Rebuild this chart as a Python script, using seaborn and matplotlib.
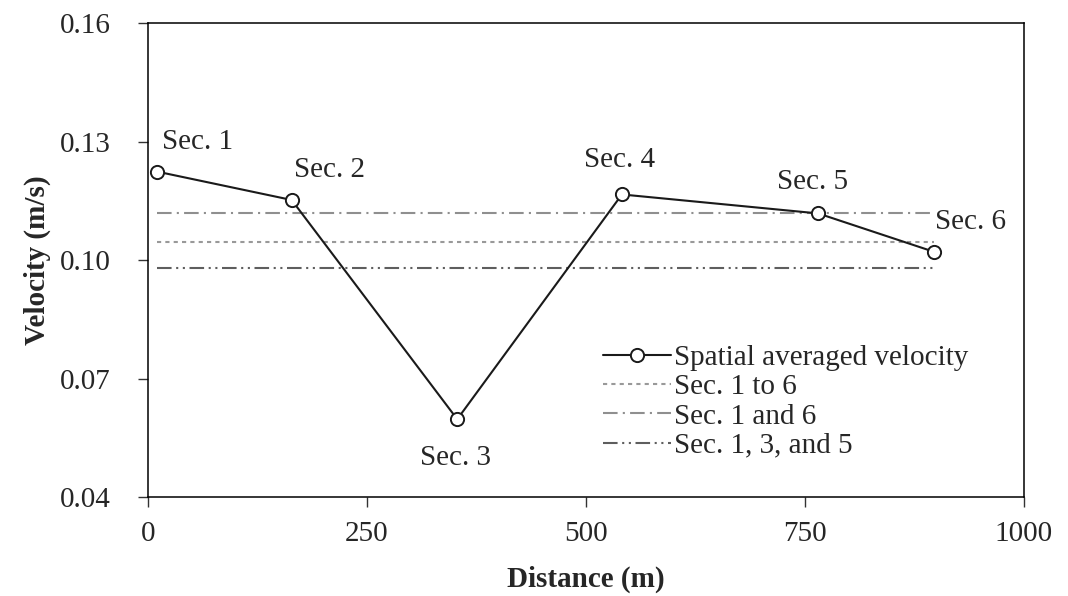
import numpy as np
import pandas as pd
import seaborn as sns
import matplotlib.pyplot as plt

# values
sections = ['Sec. 1', 'Sec. 2', 'Sec. 3', 'Sec. 4', 'Sec. 5', 'Sec. 6']
distance = [10, 164, 353, 541, 765, 897]
velocity = [0.1224, 0.1152, 0.0597, 0.1166, 0.1118, 0.1021]

mean_labels = ['Sec. 1 to 6', 'Sec. 1 and 6', 'Sec. 1, 3, and 5']
mean_values = [0.1046, 0.1120, 0.0980]

x_ticks = [0, 250, 500, 750, 1000]
y_ticks = [0.04, 0.07, 0.10, 0.13, 0.16]

sns.set_style('ticks')
plt.rcParams['font.family'] = ['Liberation Serif', 'DejaVu Serif']

fig = plt.figure(figsize=(10.68, 5.96), dpi=100)
ax = fig.add_axes([0.1386, 0.166, 0.8202, 0.7954])

df = pd.DataFrame({'Distance': distance, 'Velocity': velocity})
sns.lineplot(data=df, x='Distance', y='Velocity', ax=ax, color='#1a1a1a',
             linewidth=1.5, marker='o', markersize=9.5, markerfacecolor='white',
             markeredgecolor='#1a1a1a', markeredgewidth=1.4,
             label='Spatial averaged velocity', zorder=5)

# horizontal average lines, from Sec. 1 to Sec. 6
styles = {
    'Sec. 1 to 6': dict(color='#999999', linestyle=(0, (2, 2))),
    'Sec. 1 and 6': dict(color='#8f8f8f', linestyle=(0, (7, 2.5, 1, 2.5))),
    'Sec. 1, 3, and 5': dict(color='#5e5e5e', linestyle=(0, (7, 2.2, 1, 2.2, 1, 2.2))),
}
for lab, val in zip(mean_labels, mean_values):
    sns.lineplot(x=[distance[0], distance[-1]], y=[val, val], ax=ax,
                 linewidth=1.5, label=lab, zorder=3, **styles[lab])

# section labels
offsets = [(41, 30), (38, 30), (-2, -39), (-2, 34), (-6, 31), (37, 30)]
for name, xv, yv, off in zip(sections, distance, velocity, offsets):
    ax.annotate(name, (xv, yv), xytext=off, textcoords='offset pixels',
                ha='center', va='center', fontsize=21)

ax.set_xlim(0, 1000)
ax.set_ylim(0.04, 0.16)
ax.set_xticks(x_ticks)
ax.set_yticks(y_ticks)
ax.set_yticklabels([f'{v:.2f}' for v in y_ticks])
ax.tick_params(axis='both', labelsize=21, length=7, width=1, direction='out',
               color='#333333')
ax.tick_params(axis='y', pad=20)
ax.tick_params(axis='x', pad=10)
for sp in ax.spines.values():
    sp.set_visible(True)
    sp.set_color('black')
    sp.set_linewidth(1.1)

ax.set_xlabel('Distance (m)', fontsize=21, fontweight='bold', labelpad=14)
ax.set_ylabel('Velocity (m/s)', fontsize=21, fontweight='bold', labelpad=6)

leg = ax.legend(loc='upper left', bbox_to_anchor=(0.519, 0.322), frameon=False,
                fontsize=21, handlelength=2.35, handletextpad=0.08,
                labelspacing=0.1, borderaxespad=0, borderpad=0)

fig.savefig('out.png', dpi=100)
